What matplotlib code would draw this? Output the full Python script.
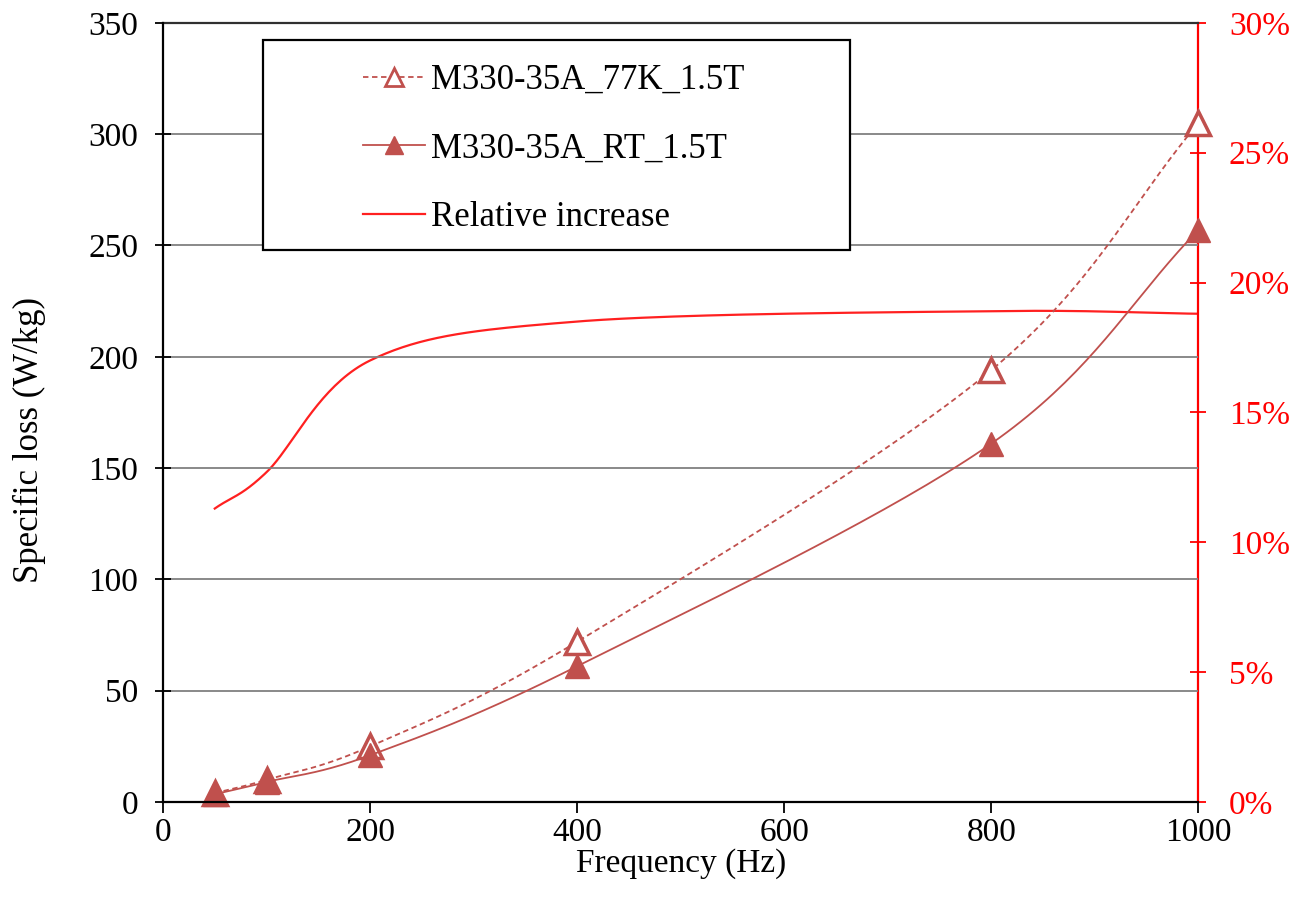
import numpy as np
import matplotlib
matplotlib.use("Agg")
import matplotlib.pyplot as plt
from matplotlib.ticker import FuncFormatter, MultipleLocator
from matplotlib.lines import Line2D
from matplotlib.patches import Rectangle

freq = [50, 100, 200, 400, 800, 1000]
loss_77k = [4, 10, 25, 72, 194, 305]
loss_rt = [3.5, 9, 21, 61, 161, 257]
rel_increase = [11.3, 12.7, 17.0, 18.5, 18.9, 18.8]

SERIES_COLOR = '#C0504D'
REL_COLOR = '#FF2020'


def smooth(x, y, n=40):
    # catmull-rom through the points, like the spreadsheet "smoothed line"
    x = np.asarray(x, float)
    y = np.asarray(y, float)
    px = np.concatenate(([2 * x[0] - x[1]], x, [2 * x[-1] - x[-2]]))
    py = np.concatenate(([2 * y[0] - y[1]], y, [2 * y[-1] - y[-2]]))
    xs, ys = [], []
    t = np.linspace(0, 1, n)
    for i in range(1, len(px) - 2):
        for p, out in ((px, xs), (py, ys)):
            p0, p1, p2, p3 = p[i - 1], p[i], p[i + 1], p[i + 2]
            out.extend(0.5 * (2 * p1 + (-p0 + p2) * t
                              + (2 * p0 - 5 * p1 + 4 * p2 - p3) * t ** 2
                              + (-p0 + 3 * p1 - 3 * p2 + p3) * t ** 3))
    return np.array(xs), np.array(ys)


plt.rcParams['font.family'] = ['Liberation Serif', 'DejaVu Serif']
plt.rcParams['font.size'] = 24

fig = plt.figure(figsize=(13.04, 9.14), dpi=100)
ax = fig.add_axes([0.125, 0.1225, 0.794, 0.8525])
ax2 = ax.twinx()

ax.set_zorder(ax2.get_zorder() + 1)
ax.patch.set_visible(False)

sx, sy = smooth(freq, loss_77k)
ax.plot(sx, sy, color=SERIES_COLOR, lw=1.3, ls=(0, (3, 2)))
ax.plot(freq, loss_77k, ls='none', marker='^', ms=17, mfc='white',
        mec=SERIES_COLOR, mew=2.5, clip_on=False)
sx, sy = smooth(freq, loss_rt)
ax.plot(sx, sy, color=SERIES_COLOR, lw=1.3)
ax.plot(freq, loss_rt, ls='none', marker='^', ms=17, color=SERIES_COLOR,
        clip_on=False)

sx, sy = smooth(freq, rel_increase)
ax2.plot(sx, sy, color=REL_COLOR, lw=1.6)

ax.set_xlim(0, 1000)
ax.set_ylim(0, 350)
ax2.set_ylim(0, 30)
ax.xaxis.set_major_locator(MultipleLocator(200))
ax.yaxis.set_major_locator(MultipleLocator(50))
ax2.yaxis.set_major_locator(MultipleLocator(5))
ax2.yaxis.set_major_formatter(FuncFormatter(lambda v, p: f'{v:.0f}%'))

ax.grid(axis='y', color='#808080', lw=1.3)
ax.axhline(350, color='#303030', lw=1.6, clip_on=False)
ax.set_axisbelow(True)
for s in ('top', 'right'):
    ax.spines[s].set_visible(False)
for s in ('top', 'left', 'bottom'):
    ax2.spines[s].set_visible(False)
ax.spines['left'].set_linewidth(1.6)
ax.spines['bottom'].set_linewidth(1.6)
ax2.spines['right'].set_color('red')
ax2.spines['right'].set_linewidth(1.6)

ax.tick_params(axis='y', direction='inout', length=12, width=1.3, pad=12)
ax.tick_params(axis='x', direction='out', length=8, width=1.3, pad=3)
ax2.tick_params(axis='y', direction='inout', length=12, width=1.3,
                colors='red', pad=16)

ax.set_xlabel('Frequency (Hz)', labelpad=0)
ax.set_ylabel('Specific loss (W/kg)', fontsize=25)
ax.yaxis.set_label_coords(-0.113, 0.465)

# legend frame drawn on its own so it can be wider than the entries
ax.add_patch(Rectangle((0.0966, 0.7086), 0.5672, 0.2694, transform=ax.transAxes,
                       facecolor='white', edgecolor='black', lw=1.6,
                       zorder=9, clip_on=False))
handles = [
    Line2D([], [], color=SERIES_COLOR, lw=1.3, ls=(0, (3, 2)), marker='^',
           ms=13, mfc='white', mec=SERIES_COLOR, mew=2),
    Line2D([], [], color=SERIES_COLOR, lw=1.3, marker='^', ms=13),
    Line2D([], [], color=REL_COLOR, lw=1.6),
]
labels = ['M330-35A_77K_1.5T', 'M330-35A_RT_1.5T', 'Relative increase']
leg = ax.legend(handles, labels, loc='center', bbox_to_anchor=(0.377, 0.838),
                frameon=False, fontsize=25, handlelength=1.8,
                handletextpad=0.15, labelspacing=1.03, borderpad=0,
                borderaxespad=0)
leg.set_zorder(10)

fig.savefig('out.png', dpi=100)
